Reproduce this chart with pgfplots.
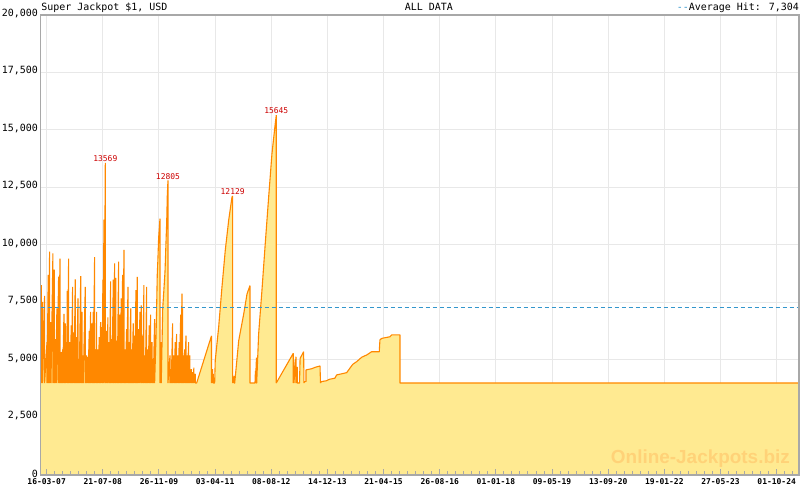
\documentclass[border=0pt]{standalone}
\usepackage{pgfplots}
\pgfplotsset{compat=1.18}
\usepackage{pgfplotstable}
\usepackage{fontspec}
\setmainfont{DejaVu Sans Mono}
\newfontfamily\wmfont{Liberation Sans}
\definecolor{jporange}{RGB}{255,136,0}
\definecolor{jpfill}{RGB}{255,234,145}
\definecolor{axgray}{RGB}{168,168,168}
\definecolor{grgray}{RGB}{232,232,232}
\definecolor{avgblue}{RGB}{51,150,204}
\definecolor{peakred}{RGB}{204,0,0}
\definecolor{wmark}{RGB}{255,210,120}
\pgfplotsset{
  layers/jplayers/.define layer set={
    axis background,axis grid,main,axis ticks,axis lines,axis tick labels,axis descriptions,axis foreground
  }{/pgfplots/layers/standard},
}
% x = days since 16-03-2007, y = jackpot (USD)
\pgfplotstableread{
x y
-53 4000
-47 8260
-47 4000
-35 7530
-35 4000
-18 7790
-18 4000
3 5780
3 4000
14 8700
14 4000
26 9710
26 4000
38 6650
38 4000
55 9640
55 4000
67 8930
67 4000
79 5910
79 4000
90 7240
90 4000
105 8620
105 4000
117 9410
117 4000
128 5340
128 4000
140 5460
140 4000
152 7010
152 4000
163 6590
163 4000
176 5780
176 4000
181 8010
181 4000
193 9410
193 4000
205 5780
205 4000
216 6500
216 4000
228 8180
228 4000
240 6200
240 4000
251 8500
251 4000
263 5990
263 4000
275 7680
275 4000
286 5050
286 4000
299 8650
299 4000
310 7090
310 4000
321 5200
321 4000
339 8180
339 4000
351 5200
351 4000
363 5130
363 4000
374 6270
374 4000
386 7090
386 4000
398 6590
398 4000
409 7090
409 4000
421 9470
421 4000
433 5460
433 4000
439 7090
439 4000
450 5460
450 4000
462 5990
462 4000
474 6650
474 4000
486 6430
486 4000
494 8490
494 4000
503 11100
503 4000
515 13569
515 4000
527 6270
527 4000
538 6850
538 4000
550 5780
550 4000
562 8420
562 4000
573 5910
573 4000
585 8490
585 4000
597 9200
597 4000
608 8570
608 4000
620 5840
620 4000
632 9280
632 4000
644 6970
644 4000
655 7680
655 4000
667 8700
667 4000
679 9790
679 4000
690 5460
690 4000
702 6340
702 4000
714 8180
714 4000
725 5780
725 4000
738 7240
738 4000
749 5460
749 4000
760 6590
760 4000
773 6060
773 4000
784 8040
784 4000
795 8610
795 4000
808 6340
808 4000
819 7090
819 4000
831 7380
831 4000
843 6060
843 4000
854 8260
854 4000
866 5200
866 4000
878 8180
878 4000
889 5460
889 4000
901 6500
901 4000
913 6970
913 4000
925 5780
925 4000
936 5050
936 4000
948 6780
948 4000
960 6000
966 7380
971 8700
977 9400
983 10300
989 10730
995 11150
995 4000
1006 5780
1006 4000
1019 7240
1030 8110
1039 8830
1048 10150
1054 11000
1059 12120
1065 12805
1065 4000
1083 5200
1083 4000
1094 4600
1094 4000
1106 6590
1106 4000
1118 5200
1118 4000
1129 5780
1129 4000
1141 6130
1141 4000
1153 5200
1153 4000
1164 5780
1164 4000
1177 6970
1177 4000
1188 7890
1188 4000
1194 7240
1194 4000
1199 5200
1199 4000
1212 5460
1212 4000
1223 6060
1223 4000
1234 5200
1234 4000
1247 5780
1247 4000
1258 5200
1258 4000
1270 4600
1270 4000
1282 4470
1282 4000
1293 4670
1293 4000
1305 4400
1305 4000
1317 4000
1447 6050
1447 4000
1457 4600
1457 4000
1464 4400
1464 4000
1475 4000
1480 4970
1510 6420
1539 8160
1568 9760
1598 11070
1627 12080
1633 12129
1633 4000
1647 4310
1647 4000
1651 4000
1686 5840
1730 7000
1759 7870
1785 8235
1785 4000
1829 4000
1833 4530
1833 4000
1842 5100
1842 4000
1844 4000
1861 6130
1890 8020
1919 10050
1949 12080
1978 13970
2007 15280
2016 15645
2016 4000
2165 5290
2165 4000
2171 5000
2171 4000
2189 5140
2189 4000
2200 4700
2200 4000
2220 4000
2225 5070
2256 5360
2259 4000
2264 4060
2277 4060
2277 4570
2327 4620
2356 4680
2400 4740
2404 4000
2412 4060
2458 4100
2481 4160
2531 4210
2546 4350
2599 4410
2634 4450
2672 4710
2687 4810
2722 4930
2766 5120
2810 5220
2853 5360
2920 5360
2926 5870
2941 5940
3014 6010
3029 6090
3102 6090
3102 4000
6605 4000
}\jpdata
\begin{document}
\begin{tikzpicture}[font=\fontsize{10}{12}\selectfont]
\begin{axis}[
  set layers=jplayers,
  clip mode=individual,
  at={(40.5bp,15bp)}, anchor=south west,
  scale only axis, width=758.5bp, height=460bp,
  xmin=-54, xmax=6605, ymin=0, ymax=20000,
  axis line style={axgray, line width=1.2bp},
  tick align=inside,
  xtick pos=left, ytick pos=left,
  xtick={0,493,...,6409},
  xticklabels={16-03-07,21-07-08,26-11-09,03-04-11,08-08-12,14-12-13,21-04-15,26-08-16,01-01-18,09-05-19,13-09-20,19-01-22,27-05-23,01-10-24},
  minor xtick={0,70.43,...,6600},
  major tick length=6bp, minor tick length=4bp,
  xtick style={axgray, line width=1bp},
  minor tick style={axgray, line width=1bp},
  ytick={0,2500,...,20000},
  ytick style={draw=none},
  scaled ticks=false,
  /pgf/number format/1000 sep={,},
  /pgf/number format/assume math mode=true,
  xticklabel style={font=\fontsize{8}{9}\selectfont\bfseries, inner sep=0pt, anchor=north, yshift=-3bp},
  yticklabel style={font=\fontsize{10}{12}\selectfont, inner sep=0pt, anchor=east, xshift=-2.5bp, yshift=1.5bp},
  xmajorgrids, ymajorgrids,
  major grid style={grgray, line width=1bp},
]
\addplot[draw=none, fill=jpfill] table[x=x,y=y] {\jpdata} \closedcycle;
\addplot[jporange, line width=1.1bp, line join=bevel] table[x=x,y=y] {\jpdata};
\addplot[avgblue, line width=1bp, dash pattern=on 4bp off 3bp] coordinates {(-54,7304) (6605,7304)};
\node[text=peakred, font=\fontsize{8}{9}\selectfont, anchor=south, inner sep=1bp] at (axis cs:515,13569) {13569};
\node[text=peakred, font=\fontsize{8}{9}\selectfont, anchor=south, inner sep=1bp] at (axis cs:1065,12805) {12805};
\node[text=peakred, font=\fontsize{8}{9}\selectfont, anchor=south, inner sep=1bp] at (axis cs:1633,12129) {12129};
\node[text=peakred, font=\fontsize{8}{9}\selectfont, anchor=south, inner sep=1bp] at (axis cs:2016,15645) {15645};
\node[anchor=base east, inner sep=0pt, text=wmark, font=\wmfont\bfseries\fontsize{19}{22}\selectfont] at (axis cs:6526,509) {Online-Jackpots.biz};
\node[anchor=base west, inner sep=0pt, yshift=4bp] at (axis description cs:0.001,1) {Super Jackpot \$1, USD};
\node[anchor=base west, inner sep=0pt, yshift=4bp] at (axis description cs:0.480,1) {ALL DATA};
\node[anchor=base east, inner sep=0pt, yshift=4bp] at (axis description cs:1,1) {\textcolor{avgblue}{-{}-}Average Hit: 7,304};
\end{axis}
\pgfresetboundingbox
\path[use as bounding box] (0,0) rectangle (800bp,490bp);
\end{tikzpicture}
\end{document}
